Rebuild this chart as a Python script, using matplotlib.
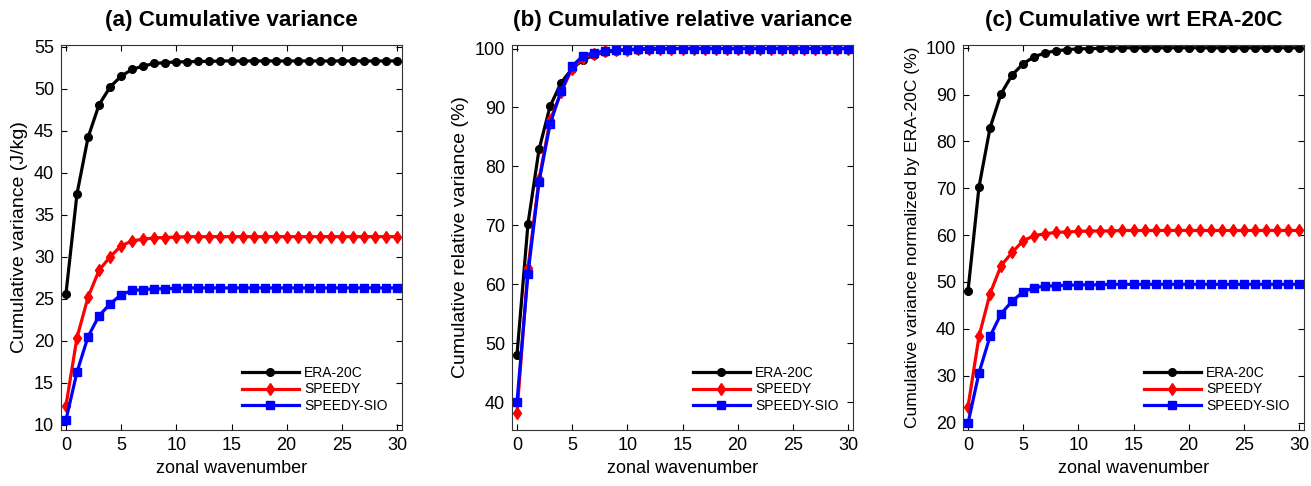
import numpy as np
import matplotlib
matplotlib.use("Agg")
import matplotlib.pyplot as plt

plt.rcParams['font.family'] = ['Liberation Sans', 'DejaVu Sans']

# zonal wavenumber 0..30
wavenumber = list(range(31))

# (a) cumulative variance (J/kg)
era_a = [25.6, 37.5, 44.2, 48.1, 50.2, 51.5, 52.3, 52.7, 53.0, 53.1, 53.2,
         53.2, 53.25, 53.25, 53.3, 53.3, 53.3, 53.3, 53.3, 53.3, 53.3,
         53.3, 53.3, 53.3, 53.3, 53.3, 53.3, 53.3, 53.3, 53.3, 53.3]
speedy_a = [12.3, 20.4, 25.2, 28.4, 30.0, 31.3, 31.9, 32.1, 32.25, 32.3, 32.35,
            32.4, 32.4, 32.4, 32.4, 32.4, 32.4, 32.4, 32.4, 32.4, 32.4,
            32.4, 32.4, 32.4, 32.4, 32.4, 32.4, 32.4, 32.4, 32.4, 32.4]
sio_a = [10.6, 16.3, 20.5, 23.0, 24.4, 25.5, 26.0, 26.1, 26.2, 26.2, 26.25,
         26.3, 26.3, 26.3, 26.3, 26.3, 26.3, 26.3, 26.3, 26.3, 26.3,
         26.3, 26.3, 26.3, 26.3, 26.3, 26.3, 26.3, 26.3, 26.3, 26.3]

# (b) cumulative relative variance (%)
era_b = [48.0, 70.3, 82.9, 90.2, 94.2, 96.6, 98.1, 98.9, 99.4, 99.6, 99.8,
         99.8, 99.9, 99.9, 100.0, 100.0, 100.0, 100.0, 100.0, 100.0, 100.0,
         100.0, 100.0, 100.0, 100.0, 100.0, 100.0, 100.0, 100.0, 100.0, 100.0]
speedy_b = [38.1, 62.8, 77.8, 87.8, 92.6, 96.6, 98.4, 99.1, 99.5, 99.7, 99.8,
            99.9, 100.0, 100.0, 100.0, 100.0, 100.0, 100.0, 100.0, 100.0, 100.0,
            100.0, 100.0, 100.0, 100.0, 100.0, 100.0, 100.0, 100.0, 100.0, 100.0]
sio_b = [40.0, 61.8, 77.4, 87.2, 92.8, 97.0, 98.8, 99.3, 99.6, 99.7, 99.8,
         99.9, 100.0, 100.0, 100.0, 100.0, 100.0, 100.0, 100.0, 100.0, 100.0,
         100.0, 100.0, 100.0, 100.0, 100.0, 100.0, 100.0, 100.0, 100.0, 100.0]

# (c) cumulative variance normalized by ERA-20C (%)
era_c = era_b
speedy_c = [23.3, 38.4, 47.5, 53.5, 56.3, 58.8, 59.9, 60.3, 60.6, 60.7, 60.8,
            60.9, 60.9, 60.9, 61.0, 61.0, 61.0, 61.0, 61.0, 61.0, 61.0,
            61.0, 61.0, 61.0, 61.0, 61.0, 61.0, 61.0, 61.0, 61.0, 61.0]
sio_c = [19.8, 30.6, 38.4, 43.2, 45.9, 47.9, 48.8, 49.1, 49.2, 49.3, 49.4,
         49.4, 49.4, 49.5, 49.5, 49.5, 49.5, 49.5, 49.5, 49.5, 49.5,
         49.5, 49.5, 49.5, 49.5, 49.5, 49.5, 49.5, 49.5, 49.5, 49.5]

labels = ['ERA-20C', 'SPEEDY', 'SPEEDY-SIO']
colors = ['black', 'red', 'blue']
markers = ['o', 'd', 's']

panels = [
    ('(a) Cumulative variance', 'Cumulative variance (J/kg)', 14,
     [era_a, speedy_a, sio_a], (9.4, 55.2), np.arange(10, 56, 5)),
    ('(b) Cumulative relative variance', 'Cumulative relative variance (%)', 14,
     [era_b, speedy_b, sio_b], (35.3, 100.6), np.arange(40, 101, 10)),
    ('(c) Cumulative wrt ERA-20C', 'Cumulative variance normalized by ERA-20C (%)', 12.5,
     [era_c, speedy_c, sio_c], (18.4, 100.6), np.arange(20, 101, 10)),
]

fig = plt.figure(figsize=(13.11, 4.86), dpi=100)
lefts = [61, 512, 963]
for left, (title, ylab, yfs, series, ylim, yticks) in zip(lefts, panels):
    ax = fig.add_axes([left / 1311, 1 - 430 / 486, 341 / 1311, 385 / 486])
    for y, c, m, lab in zip(series, colors, markers, labels):
        ax.plot(wavenumber, y, color=c, marker=m, lw=2.3, ms=5.5 if m != 'd' else 6,
                label=lab)
    ax.set_xlim(-0.45, 30.45)
    ax.set_ylim(*ylim)
    ax.set_xticks(np.arange(0, 31, 5))
    ax.set_yticks(yticks)
    ax.tick_params(direction='in', top=True, right=True, length=4, width=0.8,
                   labelsize=13, pad=5)
    for s in ax.spines.values():
        s.set_linewidth(0.8)
        s.set_color('#333333')
    ax.set_title(title, fontsize=16.2, fontweight='bold', pad=14)
    ax.set_xlabel('zonal wavenumber', fontsize=13, labelpad=4)
    ax.set_ylabel(ylab, fontsize=yfs, labelpad=4)
    ax.legend(loc='upper left', bbox_to_anchor=(0.53, 0.167), frameon=False,
              fontsize=10, handlelength=4.1, handletextpad=0.4,
              labelspacing=0.2, borderpad=0, borderaxespad=0)

fig.savefig('out.png', dpi=100)
